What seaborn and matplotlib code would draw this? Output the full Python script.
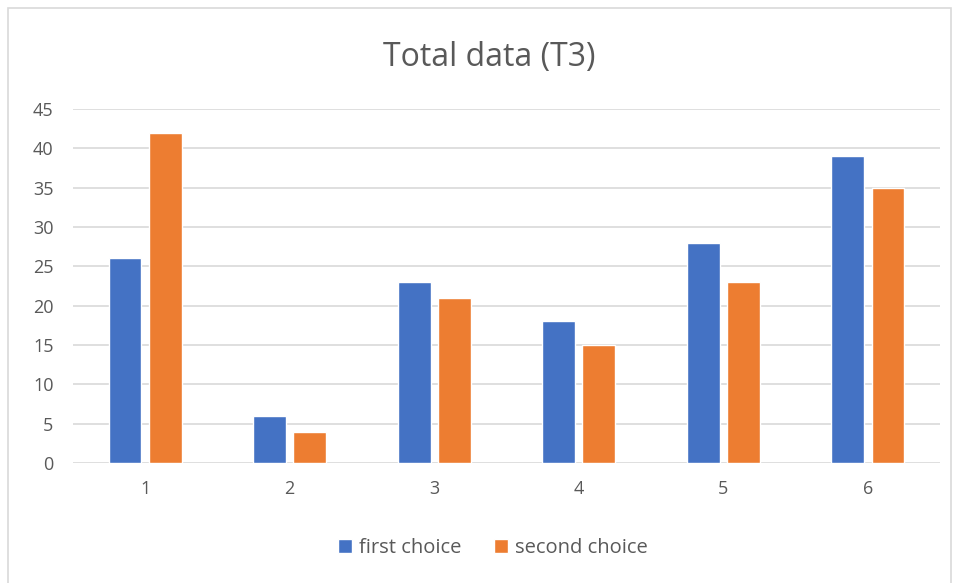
import matplotlib
matplotlib.use("Agg")
import matplotlib.pyplot as plt
import seaborn as sns
import pandas as pd
from matplotlib.patches import Rectangle

categories = ["1", "2", "3", "4", "5", "6"]
first_choice = [26, 6, 23, 18, 28, 39]
second_choice = [42, 4, 21, 15, 23, 35]
series_names = ["first choice", "second choice"]
colors = ["#4472C4", "#ED7D31"]

df = pd.DataFrame({
    "category": categories * 2,
    "value": first_choice + second_choice,
    "series": [series_names[0]] * len(categories) + [series_names[1]] * len(categories),
})

sns.set_style("white")
plt.rcParams["font.family"] = ["Open Sans", "DejaVu Sans"]

fig = plt.figure(figsize=(9.59, 5.83), dpi=100)
ax = fig.add_axes([0.0761, 0.2058, 0.9041, 0.6072])

sns.barplot(data=df, x="category", y="value", hue="series", order=categories,
            hue_order=series_names, palette=colors, width=0.56, gap=0.185,
            saturation=1, ax=ax, legend=True, zorder=3)

ax.set_ylim(0, 45)
ax.set_yticks(range(0, 50, 5))
ax.set_xlim(-0.5, len(categories) - 0.5)
ax.grid(axis="y", color="#D9D9D9", linewidth=1.2, zorder=0)
ax.set_axisbelow(True)
for s in ax.spines.values():
    s.set_visible(False)
ax.set_xlabel("")
ax.set_ylabel("")
ax.tick_params(axis="both", length=0, labelsize=13, labelcolor="#595959")
ax.tick_params(axis="y", pad=14)
ax.tick_params(axis="x", pad=12)

fig.text(0.51, 0.902, "Total data (T3)", ha="center", va="center",
         fontsize=23, color="#595959")

handles, labels = ax.get_legend_handles_labels()
ax.legend_.remove()
fig.legend(handles, labels, loc="center", bbox_to_anchor=(0.514, 0.060), ncol=2,
           frameon=False, fontsize=14.5, labelcolor="#595959", handlelength=0.7,
           handleheight=0.7, handletextpad=0.35, columnspacing=1.6)

fig.patches.append(Rectangle((8 / 959, -0.01), 943 / 959, 1 - 8 / 583 + 0.01,
                             transform=fig.transFigure, fill=False,
                             edgecolor="#D9D9D9", linewidth=1.2))

fig.savefig("out.png", dpi=100)
